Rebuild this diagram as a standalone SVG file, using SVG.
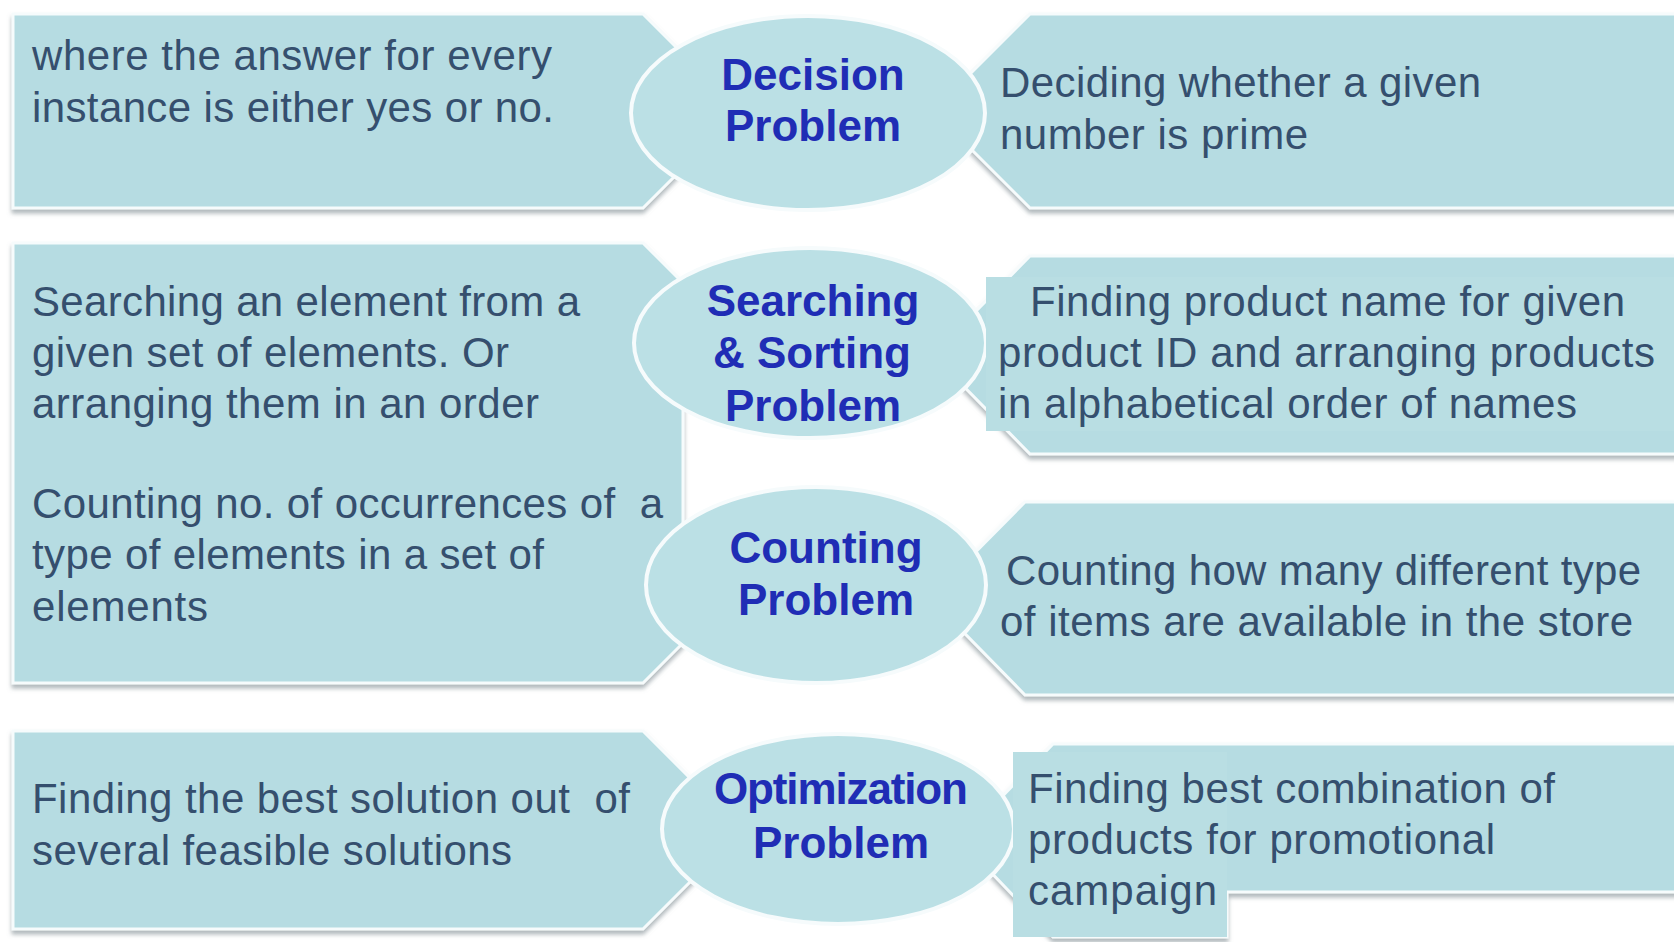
<svg xmlns="http://www.w3.org/2000/svg" width="1674" height="942" viewBox="0 0 1674 942">
  <defs>
    <filter id="sh" x="-5%" y="-5%" width="110%" height="115%">
      <feDropShadow dx="0" dy="4" stdDeviation="2" flood-color="#6f7f86" flood-opacity="0.55"/>
    </filter>
  </defs>
  <style>
    .box { fill: #b6dce2; stroke: #f6fbfc; stroke-width: 3; filter: url(#sh); }
    .tb { fill: #b9dee3; }
    .ell { fill: #bbe0e5; stroke: #f6fbfc; stroke-width: 4; }
    .txt { font-family: "Liberation Sans", Arial, sans-serif; font-size: 42px; fill: #354f6e; }
    .lbl { font-family: "Liberation Sans", Arial, sans-serif; font-size: 44px; font-weight: bold; fill: #1f2db5; text-anchor: middle; }
  </style>
  <rect x="0" y="0" width="1674" height="942" fill="#ffffff"/>

  <!-- Row 1 -->
  <g id="decision-def">
    <polygon class="box" points="13,14 643,14 740,111 643,208 13,208"/>
    <text class="txt" x="32" y="70" textLength="520">where the answer for every</text>
    <text class="txt" x="32" y="122" textLength="522">instance is either yes or no.</text>
  </g>
  <g id="decision-example">
    <polygon class="box" points="1030,14 1680,14 1680,208 1030,208 933,111"/>
  </g>
  <g id="decision-problem">
    <ellipse class="ell" cx="808" cy="113" rx="177" ry="97"/>
    <text class="lbl" x="813" y="90">Decision</text>
    <text class="lbl" x="813" y="141">Problem</text>
  </g>
  <g id="decision-example-text">
    <text class="txt" x="1000" y="97" textLength="481">Deciding whether a given</text>
    <text class="txt" x="1000" y="149" textLength="308">number is prime</text>
  </g>

  <!-- Rows 2-3 left combined box -->
  <g id="search-count-def">
    <polygon class="box" points="13,243 643,243 683,283 683,643 643,683 13,683"/>
    <text class="txt" x="32" y="316" textLength="548">Searching an element from a</text>
    <text class="txt" x="32" y="367" textLength="477">given set of elements. Or</text>
    <text class="txt" x="32" y="418" textLength="507">arranging them in an order</text>
    <text class="txt" x="32" y="518" textLength="631" xml:space="preserve">Counting no. of occurrences of  a</text>
    <text class="txt" x="32" y="569" textLength="512">type of elements in a set of</text>
    <text class="txt" x="32" y="621" textLength="176">elements</text>
  </g>

  <!-- Row 2 -->
  <g id="search-example">
    <polygon class="box" points="1030,256 1680,256 1680,454 1030,454 933,355"/>
  </g>
  <g id="search-problem">
    <ellipse class="ell" cx="810" cy="343" rx="176" ry="95"/>
    <text class="lbl" x="813" y="316">Searching</text>
    <text class="lbl" x="812" y="368">&amp; Sorting</text>
    <text class="lbl" x="813" y="421">Problem</text>
  </g>
  <g id="search-example-text">
    <rect class="tb" x="986" y="277" width="690" height="154"/>
    <text class="txt" x="1030" y="316" textLength="595">Finding product name for given</text>
    <text class="txt" x="998" y="367" textLength="657">product ID and arranging products</text>
    <text class="txt" x="998" y="418" textLength="579">in alphabetical order of names</text>
  </g>

  <!-- Row 3 -->
  <g id="count-example">
    <polygon class="box" points="1025,502 1680,502 1680,695 1025,695 930,598"/>
  </g>
  <g id="count-problem">
    <ellipse class="ell" cx="816" cy="585" rx="170" ry="98"/>
    <text class="lbl" x="826" y="563">Counting</text>
    <text class="lbl" x="826" y="615">Problem</text>
  </g>
  <g id="count-example-text">
    <text class="txt" x="1006" y="585" textLength="635">Counting how many different type</text>
    <text class="txt" x="1000" y="636" textLength="633">of items are available in the store</text>
  </g>

  <!-- Row 4 -->
  <g id="optimization-def">
    <polygon class="box" points="13,731 643,731 742,830 643,929 13,929"/>
    <text class="txt" x="32" y="813" textLength="598" xml:space="preserve">Finding the best solution out  of</text>
    <text class="txt" x="32" y="865" textLength="480">several feasible solutions</text>
  </g>
  <g id="optimization-example">
    <polygon class="box" points="1053,744 1680,744 1680,892 1227,892 1227,937 1053,937 960,840"/>
  </g>
  <g id="optimization-problem">
    <ellipse class="ell" cx="838" cy="829" rx="176" ry="95"/>
    <text class="lbl" x="841" y="804" textLength="254">Optimization</text>
    <text class="lbl" x="841" y="858">Problem</text>
  </g>
  <g id="optimization-example-text">
    <rect class="tb" x="1013" y="752" width="214" height="185"/>
    <text class="txt" x="1028" y="803" textLength="527">Finding best combination of</text>
    <text class="txt" x="1028" y="854" textLength="467">products for promotional</text>
    <text class="txt" x="1028" y="905" textLength="189">campaign</text>
  </g>

  <g id="connectors"></g>
</svg>
